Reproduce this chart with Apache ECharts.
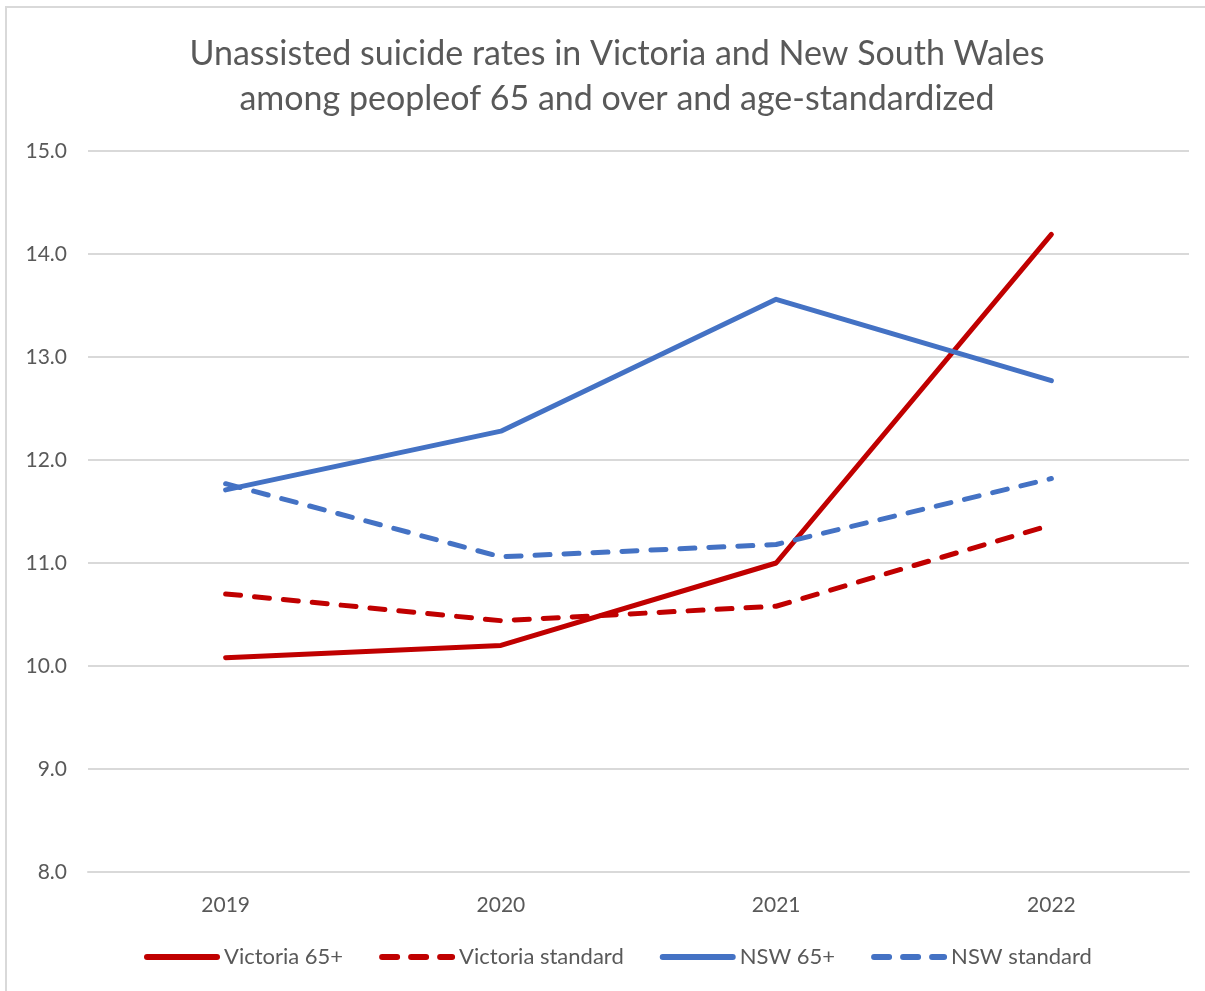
<!DOCTYPE html>
<html>
<head>
<meta charset="utf-8">
<script src="https://cdn.jsdelivr.net/npm/echarts@6/dist/echarts.min.js"></script>
<style>
  html, body { margin: 0; padding: 0; background: #fff; }
  #frame { position: absolute; left: 5px; top: 6px; width: 1205px; height: 991px; border-left: 2px solid #d9d9d9; border-top: 2px solid #d9d9d9; box-sizing: border-box; }
  #chart { position: absolute; left: 0; top: 0; width: 1205px; height: 991px; }
</style>
</head>
<body>
<div id="frame"></div>
<div id="chart"></div>
<script>
// Years on the horizontal axis
const years = ['2019', '2020', '2021', '2022'];

// Suicide rates per 100,000
const victoria65 = [10.08, 10.20, 11.00, 14.19];
const victoriaStd = [10.70, 10.44, 10.58, 11.37];
const nsw65 = [11.71, 12.28, 13.56, 12.77];
const nswStd = [11.77, 11.06, 11.18, 11.82];

const RED = '#C00000';
const BLUE = '#4472C4';
const FONT = 'Lato';

function lineSeries(name, data, color, dashed) {
  return {
    name: name,
    type: 'line',
    data: data,
    showSymbol: false,
    symbol: 'none',
    lineStyle: {
      color: color,
      width: 5,
      type: dashed ? [15, 14] : 'solid',
      cap: 'round',
      join: 'round'
    },
    itemStyle: { color: color }
  };
}

const chart = echarts.init(document.getElementById('chart'));
chart.setOption({
  animation: false,
  title: {
    text: 'Unassisted suicide rates in Victoria and New South Wales\namong peopleof 65 and over and age-standardized',
    left: 612,
    textAlign: 'center',
    top: 27,
    textStyle: {
      fontFamily: FONT,
      fontWeight: 'normal',
      fontSize: 34,
      color: '#595959',
      lineHeight: 45
    }
  },
  legend: {
    bottom: 18,
    left: 139,
    itemWidth: 70,
    itemHeight: 14,
    itemGap: 36,
    itemStyle: { opacity: 0 },
    lineStyle: { width: 6, cap: 'round' },
    textStyle: { fontFamily: FONT, fontSize: 22, color: '#595959', padding: [0, 0, 0, 2] },
    data: ['Victoria 65+', 'Victoria standard', 'NSW 65+', 'NSW standard']
  },
  grid: { left: 88, right: 16, top: 151, bottom: 119, containLabel: false },
  xAxis: {
    type: 'category',
    data: years,
    boundaryGap: true,
    axisLine: { show: true, lineStyle: { color: '#d9d9d9', width: 2 } },
    axisTick: { show: false },
    axisLabel: { fontFamily: FONT, fontSize: 21, color: '#595959', margin: 23 }
  },
  yAxis: {
    type: 'value',
    min: 8,
    max: 15,
    interval: 1,
    axisLine: { show: false },
    axisTick: { show: false },
    splitLine: { lineStyle: { color: '#d9d9d9', width: 2 } },
    axisLabel: {
      fontFamily: FONT, fontSize: 21, color: '#595959', margin: 21,
      formatter: v => v.toFixed(1)
    }
  },
  series: [
    lineSeries('Victoria 65+', victoria65, RED, false),
    lineSeries('Victoria standard', victoriaStd, RED, true),
    lineSeries('NSW 65+', nsw65, BLUE, false),
    lineSeries('NSW standard', nswStd, BLUE, true)
  ]
});
</script>
</body>
</html>
